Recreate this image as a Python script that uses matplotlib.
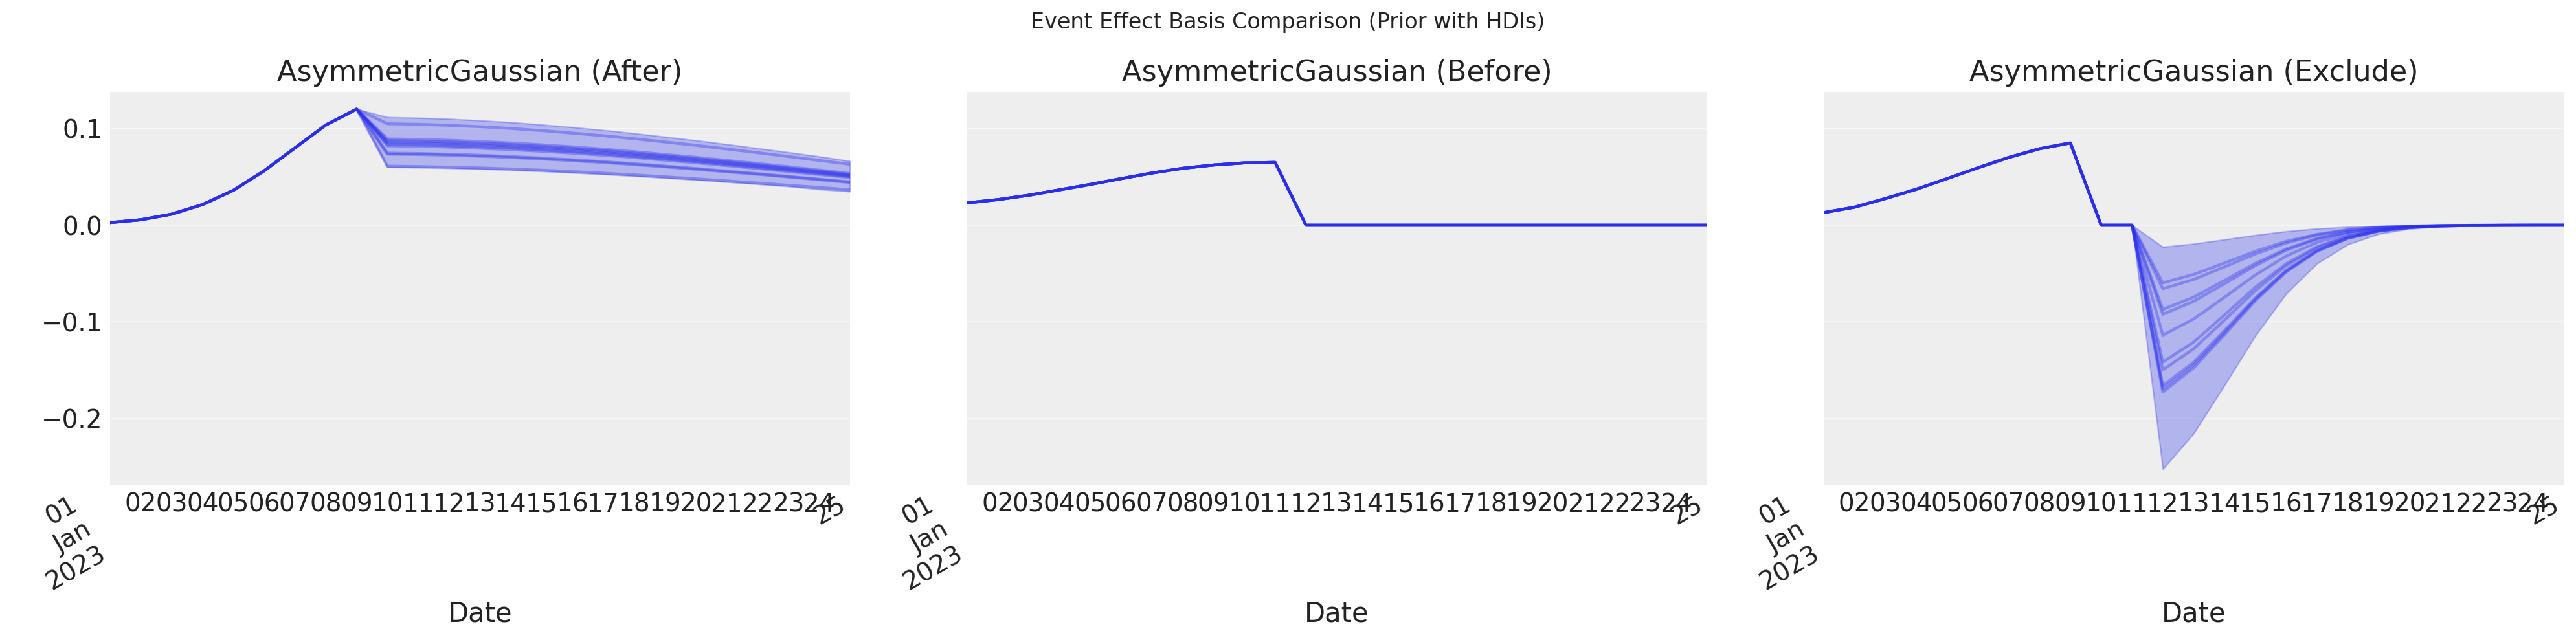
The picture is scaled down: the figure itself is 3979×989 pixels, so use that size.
import numpy as np
import pandas as pd
import matplotlib
matplotlib.use("Agg")
import matplotlib.pyplot as plt

# ---------------- data ----------------
dates = pd.date_range("2023-01-01", periods=25, freq="D")
tick_labels = ["01\nJan\n2023"] + [f"{d:02d}" for d in range(2, 26)]

panel_titles = ["AsymmetricGaussian (After)", "AsymmetricGaussian (Before)",
                "AsymmetricGaussian (Exclude)"]
suptitle = "Event Effect Basis Comparison (Prior with HDIs)"
xlabel = "Date"

# After: Jan 1 .. Jan 9 (shared by all prior samples)
after_pre = [0.0027, 0.0056, 0.0114, 0.0213, 0.0360, 0.0562, 0.0799, 0.1036, 0.1200]
# After: Jan 10 .. Jan 25, one list per prior sample
after_samples = [
    [0.1049, 0.1043, 0.1032, 0.1018, 0.1000, 0.0978, 0.0952, 0.0925, 0.0894, 0.0860, 0.0826, 0.0788, 0.0750, 0.0710, 0.0670, 0.0629],
    [0.0892, 0.0887, 0.0878, 0.0865, 0.0850, 0.0831, 0.0810, 0.0787, 0.0760, 0.0731, 0.0702, 0.0670, 0.0638, 0.0604, 0.0570, 0.0535],
    [0.0875, 0.0870, 0.0861, 0.0849, 0.0834, 0.0816, 0.0795, 0.0772, 0.0746, 0.0718, 0.0689, 0.0657, 0.0626, 0.0592, 0.0559, 0.0525],
    [0.0862, 0.0857, 0.0848, 0.0836, 0.0821, 0.0803, 0.0783, 0.0760, 0.0734, 0.0707, 0.0678, 0.0647, 0.0616, 0.0584, 0.0551, 0.0517],
    [0.0850, 0.0845, 0.0836, 0.0825, 0.0810, 0.0792, 0.0772, 0.0750, 0.0724, 0.0697, 0.0669, 0.0638, 0.0608, 0.0575, 0.0543, 0.0510],
    [0.0835, 0.0830, 0.0822, 0.0810, 0.0796, 0.0778, 0.0758, 0.0736, 0.0711, 0.0685, 0.0657, 0.0627, 0.0597, 0.0565, 0.0534, 0.0501],
    [0.0820, 0.0815, 0.0807, 0.0795, 0.0781, 0.0764, 0.0745, 0.0723, 0.0699, 0.0672, 0.0645, 0.0616, 0.0586, 0.0555, 0.0524, 0.0492],
    [0.0745, 0.0741, 0.0733, 0.0723, 0.0710, 0.0694, 0.0676, 0.0657, 0.0635, 0.0611, 0.0586, 0.0559, 0.0533, 0.0504, 0.0476, 0.0447],
    [0.0735, 0.0731, 0.0723, 0.0713, 0.0700, 0.0685, 0.0667, 0.0648, 0.0626, 0.0603, 0.0578, 0.0552, 0.0526, 0.0498, 0.0470, 0.0441],
    [0.0610, 0.0606, 0.0600, 0.0592, 0.0581, 0.0569, 0.0554, 0.0538, 0.0520, 0.0500, 0.0480, 0.0458, 0.0436, 0.0413, 0.0390, 0.0366],
]
after_hdi_high = [0.1117, 0.1110, 0.1099, 0.1083, 0.1064, 0.1040, 0.1013, 0.0983, 0.0950, 0.0914, 0.0877, 0.0837, 0.0796, 0.0754, 0.0711, 0.0663]
after_hdi_low = [0.0600, 0.0596, 0.0590, 0.0581, 0.0571, 0.0558, 0.0543, 0.0527, 0.0509, 0.0489, 0.0469, 0.0447, 0.0425, 0.0402, 0.0371, 0.0348]

# Before: all prior samples identical
before_values = [0.0230, 0.0264, 0.0309, 0.0365, 0.0421, 0.0481, 0.0539, 0.0588, 0.0622, 0.0644, 0.0649,
                 0.0, 0.0, 0.0, 0.0, 0.0, 0.0, 0.0, 0.0, 0.0, 0.0, 0.0, 0.0, 0.0, 0.0]

# Exclude: Jan 1 .. Jan 11 (shared)
exclude_pre = [0.0130, 0.0186, 0.0275, 0.0371, 0.0481, 0.0593, 0.0700, 0.0790, 0.0850, 0.0, 0.0]
# Exclude: Jan 12 .. Jan 25, one list per prior sample
exclude_samples = [
    [-0.0596, -0.0509, -0.0391, -0.0270, -0.0167, -0.0094, -0.0047, -0.0021, -0.0009, -0.0003, -0.0001, 0.0, 0.0, 0.0],
    [-0.0657, -0.0561, -0.0431, -0.0298, -0.0185, -0.0103, -0.0052, -0.0023, -0.0010, -0.0003, -0.0001, 0.0, 0.0, 0.0],
    [-0.0871, -0.0744, -0.0571, -0.0395, -0.0245, -0.0137, -0.0069, -0.0031, -0.0013, -0.0005, -0.0002, 0.0, 0.0, 0.0],
    [-0.0922, -0.0787, -0.0605, -0.0418, -0.0259, -0.0145, -0.0073, -0.0033, -0.0013, -0.0005, -0.0002, 0.0, 0.0, 0.0],
    [-0.1136, -0.0970, -0.0745, -0.0515, -0.0319, -0.0178, -0.0090, -0.0041, -0.0016, -0.0006, -0.0002, -0.0001, 0.0, 0.0],
    [-0.1415, -0.1208, -0.0928, -0.0641, -0.0398, -0.0222, -0.0112, -0.0051, -0.0021, -0.0008, -0.0003, -0.0001, 0.0, 0.0],
    [-0.1496, -0.1278, -0.0981, -0.0678, -0.0420, -0.0235, -0.0118, -0.0053, -0.0022, -0.0008, -0.0003, -0.0001, 0.0, 0.0],
    [-0.1658, -0.1416, -0.1088, -0.0751, -0.0466, -0.0260, -0.0131, -0.0059, -0.0024, -0.0009, -0.0003, -0.0001, 0.0, 0.0],
    [-0.1692, -0.1445, -0.1110, -0.0766, -0.0475, -0.0266, -0.0134, -0.0060, -0.0025, -0.0009, -0.0003, -0.0001, 0.0, 0.0],
    [-0.1726, -0.1474, -0.1132, -0.0782, -0.0485, -0.0271, -0.0136, -0.0062, -0.0025, -0.0009, -0.0003, -0.0001, 0.0, 0.0],
]
exclude_hdi_low = [-0.2520, -0.2152, -0.1653, -0.1142, -0.0708, -0.0396, -0.0199, -0.0090, -0.0037, -0.0013, -0.0004, -0.0001, 0.0, 0.0]
exclude_hdi_high = [-0.0225, -0.0192, -0.0148, -0.0102, -0.0063, -0.0035, -0.0018, -0.0008, -0.0003, -0.0001, 0.0, 0.0, 0.0, 0.0]

n_before_samples = 10

# ---------------- style ----------------
BLUE = "#2a2eec"
TEXT = "#222222"
plt.rcParams.update({
    "font.family": ["DejaVu Sans"],
    "text.color": TEXT,
    "axes.labelcolor": TEXT,
    "xtick.color": TEXT,
    "ytick.color": TEXT,
})

fig, axes = plt.subplots(1, 3, figsize=(3979 / 200, 989 / 200), dpi=200, sharey=True)
fig.subplots_adjust(left=0.0427, right=0.9952, top=0.8567, bottom=0.242, wspace=0.158)

after_series = [after_pre + s for s in after_samples]
after_low = after_pre + after_hdi_low
after_high = after_pre + after_hdi_high
before_series = [before_values for _ in range(n_before_samples)]
before_low = before_values
before_high = before_values
excl_series = [exclude_pre + s for s in exclude_samples]
excl_low = exclude_pre + exclude_hdi_low
excl_high = exclude_pre + exclude_hdi_high

panels = [
    (after_series, after_low, after_high),
    (before_series, before_low, before_high),
    (excl_series, excl_low, excl_high),
]

for ax, title, (series, lo, hi) in zip(axes, panel_titles, panels):
    ax.set_facecolor("#eeeeee")
    for sp in ax.spines.values():
        sp.set_visible(False)
    ax.grid(axis="y", color="#f6f6f6", linewidth=0.8)
    ax.grid(axis="x", visible=False)
    ax.set_axisbelow(True)
    ax.fill_between(dates, lo, hi, color=BLUE, alpha=0.3, linewidth=0.8)
    for s in series:
        ax.plot(dates, s, color=BLUE, alpha=0.35, linewidth=1.6)
    ax.set_xlim(dates[0], dates[-1])
    ax.set_title(title, fontsize=16, color=TEXT)
    ax.set_xlabel(xlabel, fontsize=15, labelpad=3)
    ax.set_xticks(dates)
    labs = ax.set_xticklabels(tick_labels)
    for t in (labs[0], labs[-1]):
        t.set_rotation(30)
        t.set_ha("right")
    ax.tick_params(axis="both", length=0, labelsize=14, pad=4)

axes[0].set_ylim(-0.2687, 0.138)
axes[0].set_yticks([-0.2, -0.1, 0.0, 0.1])
for ax in axes[1:]:
    ax.tick_params(axis="y", labelleft=False)

fig.suptitle(suptitle, fontsize=12, y=0.982, color=TEXT)

fig.savefig("out.png", dpi=200)
